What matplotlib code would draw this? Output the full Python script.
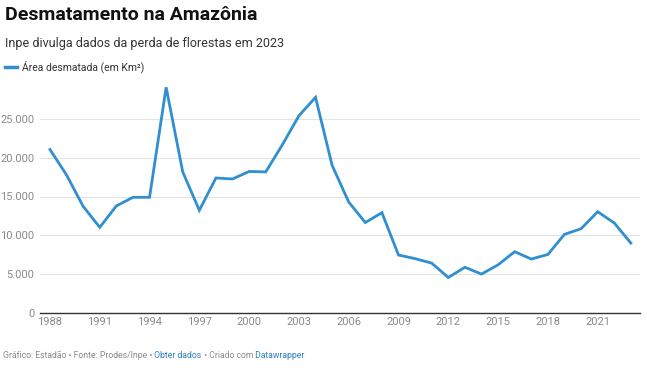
import matplotlib.pyplot as plt

plt.rcParams['font.family'] = ['Roboto', 'DejaVu Sans']

anos = list(range(1988, 2024))
area = [21050, 17770, 13730, 11030, 13786, 14896, 14896, 29059, 18161, 13227,
        17383, 17259, 18226, 18165, 21651, 25396, 27772, 19014, 14286, 11651,
        12911, 7464, 7000, 6418, 4571, 5891, 5012, 6207, 7893, 6947,
        7536, 10129, 10851, 13038, 11594, 9001]
yticks = [0, 5000, 10000, 15000, 20000, 25000]
ylabels = ['0', '5.000', '10.000', '15.000', '20.000', '25.000']
xticks = list(range(1988, 2022, 3))

azul = '#2f8fd0'
cinza = '#8a8a8a'

fig = plt.figure(figsize=(6.47, 3.71), dpi=100)
ax = fig.add_axes([40/647, 58/371, 600/647, 233/371])

ax.plot(anos, area, color=azul, lw=2.0, solid_joinstyle='miter', zorder=3)

ax.set_xlim(1987.4, 2023.55)
ax.set_ylim(0, 30000)
ax.set_yticks(yticks)
ax.set_yticklabels(ylabels)
ax.set_xticks(xticks)
ax.tick_params(axis='both', length=0, colors=cinza, labelsize=8)
ax.tick_params(axis='y', pad=4)
ax.tick_params(axis='x', pad=3)
ax.grid(axis='y', color='#e3e3e3', lw=0.8)
for s in ['top', 'right', 'left']:
    ax.spines[s].set_visible(False)
ax.spines['bottom'].set_color('#333333')
ax.spines['bottom'].set_linewidth(1.0)
ax.spines['bottom'].set_zorder(4)

fig.text(5/647, 1 - 15/371, 'Desmatamento na Amazônia', fontsize=14,
         fontweight='bold', color='#111111', va='center')
fig.text(5/647, 1 - 43/371, 'Inpe divulga dados da perda de florestas em 2023',
         fontsize=9, color='#333333', va='center')
fig.lines.append(plt.Line2D([5/647, 17/647], [1 - 67/371, 1 - 67/371],
                            color=azul, lw=2.5, transform=fig.transFigure))
fig.text(22/647, 1 - 67/371, 'Área desmatada (em Km²)', fontsize=7.5,
         color='#333333', va='center')

# rodapé com links
rod_y = 1 - 355/371
partes = [('Gráfico: Estadão • Fonte: Prodes/Inpe •', cinza),
          (' Obter dados', '#2a7fbf'),
          (' • Criado com', cinza),
          (' Datawrapper', '#2a7fbf')]
fig.canvas.draw()
r = fig.canvas.get_renderer()
x = 3/647
for txt, cor in partes:
    t = fig.text(x, rod_y, txt, fontsize=6.2, color=cor, va='center')
    bb = t.get_window_extent(renderer=r)
    x = bb.x1 / fig.bbox.width

fig.savefig('out.png', dpi=100)
